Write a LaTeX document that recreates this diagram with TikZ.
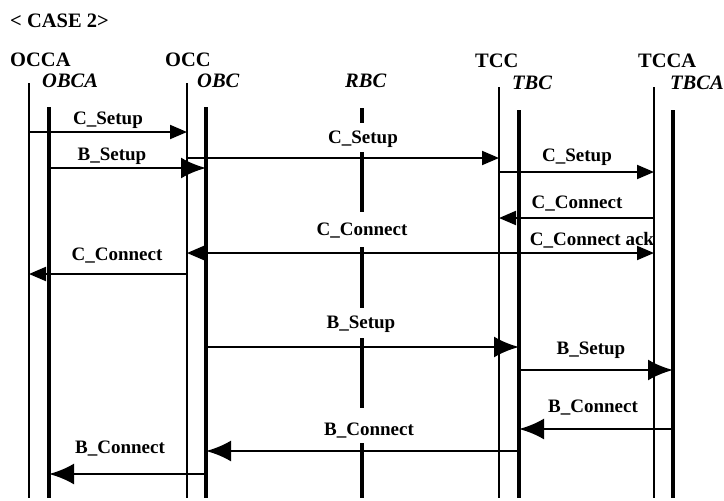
\documentclass[tikz,border=0pt]{standalone}
\usepackage{fontspec}
\setmainfont{Liberation Serif}
\usetikzlibrary{arrows.meta}

\tikzset{
  life/.style={line width=2.1pt},
  bclife/.style={line width=3.3pt},
  cmsg/.style={line width=1.9pt,-{Triangle[length=17pt,width=14pt]}},
  bmsg/.style={line width=2.7pt,-{Latex[length=25pt,width=21pt]}},
  lbl/.style={font=\fontsize{19}{22}\selectfont\bfseries,inner sep=0pt,anchor=base},
  head/.style={font=\fontsize{20.5}{24}\selectfont\bfseries,inner sep=0pt,anchor=base west},
  bchead/.style={head,font=\fontsize{20.5}{24}\selectfont\bfseries\itshape}
}

\begin{document}
\begin{tikzpicture}[x=1pt,y=-1pt]
\useasboundingbox (0,0) rectangle (724,501);
% headings
\node[head] (hcase) at (10,27) {< CASE 2>};
\node[head] (hocca) at (10,66) {OCCA};
\node[head] (hocc) at (165,66) {OCC};
\node[head] (htcc) at (475,67) {TCC};
\node[head] (htcca) at (638,67) {TCCA};
\node[bchead] (hobca) at (42,87) {OBCA};
\node[bchead] (hobc) at (197,87) {OBC};
\node[bchead] (hrbc) at (345,87) {RBC};
\node[bchead] (htbc) at (512,89) {TBC};
\node[bchead] (htbca) at (670,89) {TBCA};
% life lines
\coordinate (occa) at (29,83);
\coordinate (obca) at (49,107);
\coordinate (occ) at (187,83);
\coordinate (obc) at (206,107);
\coordinate (rbc) at (362,108);
\coordinate (tcc) at (499,87);
\coordinate (tbc) at (519,110);
\coordinate (tcca) at (654,87);
\coordinate (tbca) at (673,110);
\draw[life] (occa) -- (occa |- 0,498);
\draw[life] (occ) -- (occ |- 0,498);
\draw[life] (tcc) -- (tcc |- 0,498);
\draw[life] (tcca) -- (tcca |- 0,498);
\draw[bclife] (obca) -- (obca |- 0,498);
\draw[bclife] (obc) -- (obc |- 0,498);
\draw[bclife] (tbc) -- (tbc |- 0,498);
\draw[bclife] (tbca) -- (tbca |- 0,498);
% RBC line, broken at the labels
\draw[bclife] (rbc) -- (rbc |- 0,123) (rbc |- 0,152) -- (rbc |- 0,212)
  (rbc |- 0,247) -- (rbc |- 0,308) (rbc |- 0,338) -- (rbc |- 0,408)
  (rbc |- 0,443) -- (rbc |- 0,498);
% call setup and connect
\draw[cmsg] (occa |- 0,132) -- (occ |- 0,132);
\node[lbl] (lcs1) at (108,124) {C\_Setup};
\draw[bmsg] (obca |- 0,168) -- (obc |- 0,168);
\node[lbl] (lbs1) at (112,160) {B\_Setup};
\draw[cmsg] (occ |- 0,158) -- (tcc |- 0,158);
\node[lbl] (lcs2) at (363,143) {C\_Setup};
\draw[cmsg] (tcc |- 0,172) -- (tcca |- 0,172);
\node[lbl] (lcs3) at (577,161) {C\_Setup};
\draw[cmsg] (tcca |- 0,218) -- (tcc |- 0,218);
\node[lbl] (lcc1) at (577,208) {C\_Connect};
\draw[cmsg] (tcc |- 0,253) -- (tcca |- 0,253);
\node[lbl] (lack) at (592,245) {C\_Connect ack};
\draw[cmsg] (tcc |- 0,253) -- (occ |- 0,253);
\node[lbl] (lcc2) at (362,235) {C\_Connect};
\draw[cmsg] (occ |- 0,274) -- (occa |- 0,274);
\node[lbl] (lcc3) at (117,260) {C\_Connect};
% bearer setup and connect
\draw[bmsg] (obc |- 0,347) -- (tbc |- 0,347);
\node[lbl] (lbs2) at (361,328) {B\_Setup};
\draw[bmsg] (tbc |- 0,370) -- (tbca |- 0,370);
\node[lbl] (lbs3) at (591,354) {B\_Setup};
\draw[bmsg] (tbca |- 0,429) -- (tbc |- 0,429);
\node[lbl] (lbc1) at (593,412) {B\_Connect};
\draw[bmsg] (tbc |- 0,451) -- (obc |- 0,451);
\node[lbl] (lbc2) at (369,435) {B\_Connect};
\draw[bmsg] (obc |- 0,474) -- (obca |- 0,474);
\node[lbl] (lbc3) at (120,453) {B\_Connect};
\end{tikzpicture}
\end{document}
